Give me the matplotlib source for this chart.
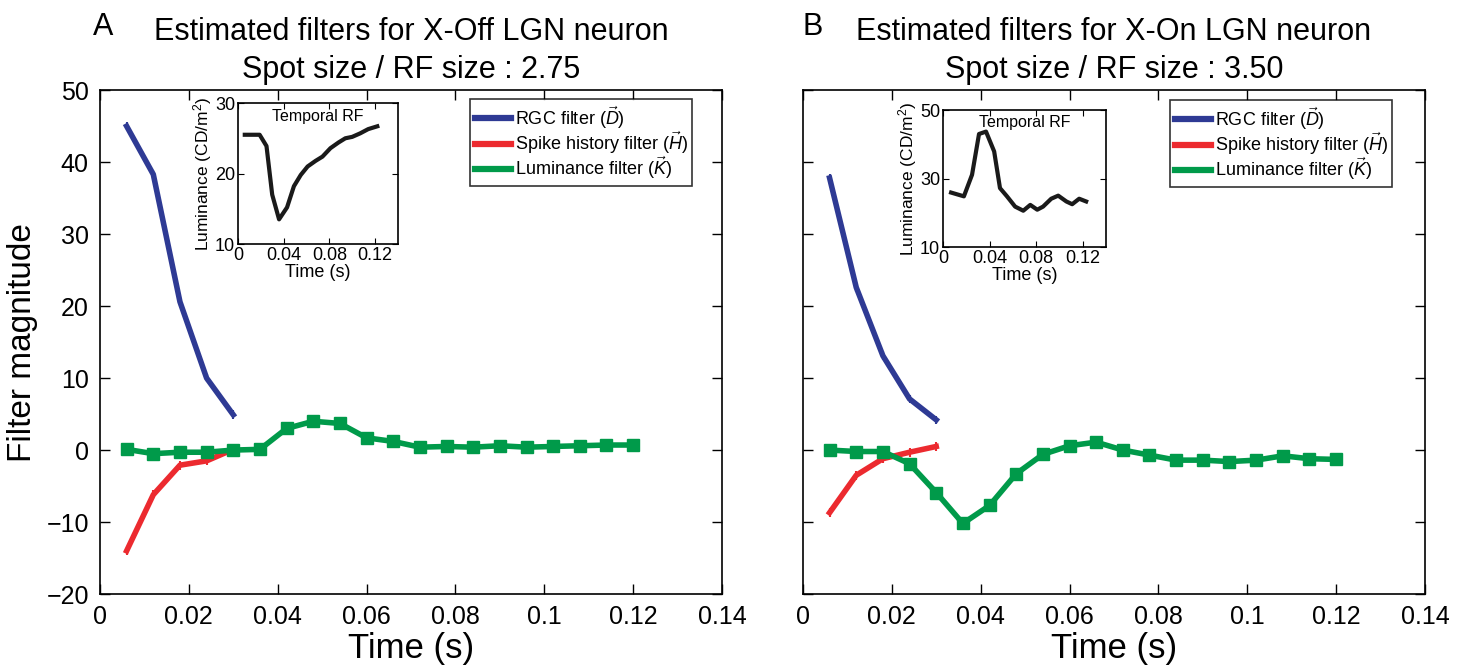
import numpy as np
import matplotlib
matplotlib.use("Agg")
import matplotlib.pyplot as plt
from matplotlib.lines import Line2D

plt.rcParams['font.family'] = ['Liberation Sans', 'DejaVu Sans']
plt.rcParams['mathtext.fontset'] = 'custom'
plt.rcParams['mathtext.it'] = 'Liberation Sans:italic'
plt.rcParams['mathtext.rm'] = 'Liberation Sans'

# lag times (s)
t_filt = [0.006, 0.012, 0.018, 0.024, 0.030, 0.036, 0.042, 0.048, 0.054, 0.060,
          0.066, 0.072, 0.078, 0.084, 0.090, 0.096, 0.102, 0.108, 0.114, 0.120]
t_short = [0.006, 0.012, 0.018, 0.024, 0.030]

# panel A: X-Off
off_rgc = [45.0, 38.3, 20.6, 10.0, 4.9]
off_spike = [-14.0, -6.2, -2.1, -1.5, 0.1]
off_lum = [0.1, -0.5, -0.3, -0.3, 0.0, 0.1, 3.0, 4.0, 3.7, 1.7,
           1.2, 0.4, 0.5, 0.4, 0.6, 0.4, 0.5, 0.6, 0.7, 0.7]
off_rf_t = [0.006, 0.019, 0.025, 0.030, 0.036, 0.043, 0.049, 0.055, 0.061, 0.068,
            0.074, 0.081, 0.088, 0.094, 0.100, 0.107, 0.114, 0.122]
off_rf = [25.5, 25.5, 23.9, 17.0, 13.5, 15.2, 18.2, 19.8, 21.0, 21.8,
          22.4, 23.6, 24.4, 25.0, 25.2, 25.7, 26.3, 26.7]

# panel B: X-On
on_rgc = [37.8, 22.6, 13.1, 7.1, 4.2]
on_spike = [-8.7, -3.5, -1.2, -0.3, 0.5]
on_lum = [0.0, -0.2, -0.2, -1.9, -5.9, -10.2, -7.7, -3.3, -0.6, 0.6,
          1.1, 0.0, -0.7, -1.4, -1.4, -1.6, -1.4, -0.8, -1.2, -1.3]
on_rf_t = [0.007, 0.018, 0.025, 0.031, 0.037, 0.044, 0.049, 0.055, 0.062, 0.069,
           0.075, 0.081, 0.086, 0.093, 0.099, 0.106, 0.111, 0.117, 0.123]
on_rf = [25.9, 24.8, 31.1, 43.0, 43.7, 37.9, 27.2, 24.8, 21.8, 20.6,
         22.3, 20.9, 21.8, 24.1, 25.0, 23.3, 22.5, 24.1, 23.3]

panels = [
    ("A", "Estimated filters for X-Off LGN neuron\nSpot size / RF size : 2.75",
     off_rgc, off_spike, off_lum, off_rf_t, off_rf, (10, 30), [10, 20, 30]),
    ("B", "Estimated filters for X-On LGN neuron\nSpot size / RF size : 3.50",
     on_rgc, on_spike, on_lum, on_rf_t, on_rf, (10, 50), [10, 30, 50]),
]

blue = '#2e3a94'
red = '#ec2a2f'
green = '#009a4a'
labels = [r'RGC filter ($\vec{D}$)', r'Spike history filter ($\vec{H}$)',
          r'Luminance filter ($\vec{K}$)']

fig = plt.figure(figsize=(14.66, 6.70), dpi=100)
main_pos = [[0.0682, 0.1134, 0.4243, 0.752], [0.5477, 0.1134, 0.4243, 0.752]]
inset_pos = [[0.1623, 0.6358, 0.1091, 0.2104], [0.6432, 0.6313, 0.1112, 0.2045]]
legend_anchor = [(0.952, 0.982), (0.947, 0.980)]

for i, (letter, title, rgc, spike, lum, rf_t, rf, rf_lim, rf_ticks) in enumerate(panels):
    ax = fig.add_axes(main_pos[i])
    ax.errorbar(t_short, rgc, yerr=0.6, color=blue, lw=4, elinewidth=1.5,
                capsize=0, zorder=3)
    ax.errorbar(t_short, spike, yerr=0.6, color=red, lw=4, elinewidth=1.5,
                capsize=0, zorder=3)
    ax.errorbar(t_filt, lum, yerr=0.3, color=green, lw=4, marker='s', ms=8,
                elinewidth=1.5, capsize=0, zorder=4)
    ax.set_xlim(0, 0.14)
    ax.set_ylim(-20, 50)
    ax.set_xticks([0, 0.02, 0.04, 0.06, 0.08, 0.1, 0.12, 0.14])
    ax.set_xticklabels(['0', '0.02', '0.04', '0.06', '0.08', '0.1', '0.12', '0.14'])
    ax.set_yticks([-20, -10, 0, 10, 20, 30, 40, 50])
    ax.tick_params(direction='in', top=True, right=True, labelsize=18, length=7,
                   width=1, pad=8)
    for s in ax.spines.values():
        s.set_linewidth(1.2)
    ax.set_xlabel('Time (s)', fontsize=25, labelpad=2)
    if i == 0:
        ax.set_ylabel('Filter magnitude', fontsize=24, labelpad=6)
        ax.set_yticklabels(['\u221220', '\u221210', '0', '10', '20', '30', '40', '50'])
    else:
        ax.set_yticklabels([])
    ax.set_title(title, fontsize=22, pad=9, linespacing=1.35)
    ax.text(-0.012 if i == 0 else 0.0, 1.095, letter, transform=ax.transAxes,
            fontsize=22, va='bottom', ha='left')
    handles = [Line2D([], [], color=c, lw=4.5) for c in (blue, red, green)]
    leg = ax.legend(handles, labels, loc='upper right', bbox_to_anchor=legend_anchor[i],
                    fontsize=13, frameon=True, fancybox=False, edgecolor='black',
                    handlelength=2.0, handletextpad=0.2, borderpad=0.25,
                    labelspacing=-0.08, borderaxespad=0)
    leg.get_frame().set_linewidth(1.2)

    ins = fig.add_axes(inset_pos[i])
    ins.plot(rf_t, rf, color='#1a1a1a', lw=3)
    ins.set_xlim(0, 0.14)
    ins.set_ylim(*rf_lim)
    ins.set_xticks([0, 0.04, 0.08, 0.12])
    ins.set_xticklabels(['0', '0.04', '0.08', '0.12'])
    ins.set_yticks(rf_ticks)
    ins.tick_params(direction='in', top=True, right=True, labelsize=13, length=4, pad=2)
    for s in ins.spines.values():
        s.set_linewidth(1.2)
    ins.set_xlabel('Time (s)', fontsize=13, labelpad=0)
    ins.set_ylabel(r'Luminance (CD/m$^2$)', fontsize=12.5, labelpad=1)
    ins.text(0.5, 0.96, 'Temporal RF', transform=ins.transAxes, ha='center',
             va='top', fontsize=11.5)

fig.savefig('out.png', dpi=100)
